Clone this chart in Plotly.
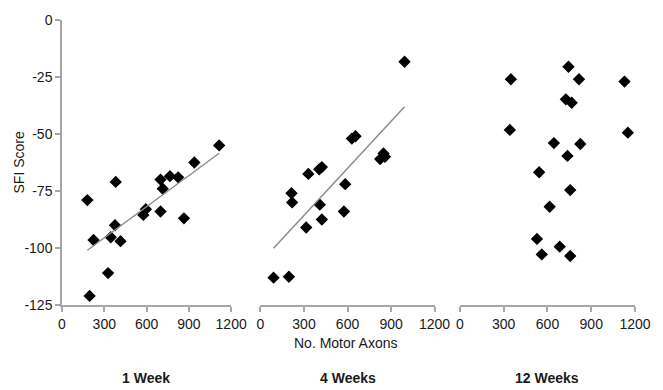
import numpy as np
import plotly.graph_objects as go

# ---- data ----
panels = ["1 Week", "4 Weeks", "12 Weeks"]

x_1wk = [180, 196, 224, 327, 346, 376, 381, 415, 577, 595, 699, 699, 715, 766, 824, 865, 939, 1115]
y_1wk = [-79, -121, -96.5, -111, -95.3, -90, -71, -97, -85.5, -83, -84, -70, -74, -68.5, -69, -87, -62.5, -55]

x_4wk = [90, 196, 214, 218, 315, 330, 405, 409, 423, 423, 575, 584, 630, 655, 825, 848, 858, 993]
y_4wk = [-113, -112.6, -76, -80, -91, -67.5, -65.5, -81, -64.5, -87.5, -84, -72, -52, -51, -61, -58.5, -60, -18.3]

x_12wk = [342, 349, 528, 543, 561, 615, 644, 684, 726, 737, 744, 756, 756, 766, 816, 825, 1128, 1151]
y_12wk = [-48.2, -26, -96, -66.8, -102.8, -81.9, -54, -99.4, -34.8, -59.6, -20.5, -74.6, -103.5, -36.3, -26, -54.4, -27, -49.4]

x_ticks = [0, 300, 600, 900, 1200]
y_ticks = [0, -25, -50, -75, -100, -125]
y_tick_text = ["0", "-25", "-50", "-75", "-100", "-125"]

series = [(x_1wk, y_1wk, True), (x_4wk, y_4wk, True), (x_12wk, y_12wk, False)]

# ---- styling ----
W, H = 663, 390
ML, MR, MT, MB = 62, 15, 20, 85
domains = [[0.0, 0.2952], [0.3464, 0.6502], [0.6945, 1.0]]
AXIS_COLOR = "#a6a6a6"
TEXT_COLOR = "#1a1a1a"
FONT = "Liberation Sans, Arial, sans-serif"
FS = 14

fig = go.Figure()

for i, (xs, ys, trend) in enumerate(series):
    sfx = "" if i == 0 else str(i + 1)
    fig.add_trace(go.Scatter(
        x=xs, y=ys, mode="markers",
        marker=dict(symbol="diamond", size=9.5, color="black"),
        xaxis="x" + sfx, yaxis="y" + sfx, showlegend=False, hoverinfo="x+y"))
    if trend:
        xa = np.array(xs, dtype=float)
        ya = np.array(ys, dtype=float)
        m, b = np.polyfit(xa, ya, 1)
        lx = np.array([xa.min(), xa.max()])
        fig.add_trace(go.Scatter(
            x=lx, y=m * lx + b, mode="lines",
            line=dict(color="#8c8c8c", width=1.5),
            xaxis="x" + sfx, yaxis="y" + sfx, showlegend=False, hoverinfo="skip"))

layout = dict(
    width=W, height=H,
    margin=dict(l=ML, r=MR, t=MT, b=MB, pad=0),
    paper_bgcolor="white", plot_bgcolor="white",
    font=dict(family=FONT, size=FS, color=TEXT_COLOR),
)

for i in range(3):
    sfx = "" if i == 0 else str(i + 1)
    xkey = "xaxis" + sfx
    ykey = "yaxis" + sfx
    layout[xkey] = dict(
        domain=domains[i], range=[0, 1200], anchor="y" + sfx,
        tickvals=x_ticks, ticktext=[str(v) for v in x_ticks],
        showline=True, linecolor=AXIS_COLOR, linewidth=1.5,
        ticks="outside", ticklen=5, tickcolor=AXIS_COLOR, tickwidth=1.5,
        showgrid=False, zeroline=False, fixedrange=True,
        tickfont=dict(size=FS, color=TEXT_COLOR),
    )
    if i == 0:
        layout[ykey] = dict(
            domain=[0, 1], range=[-125, 0], anchor="x",
            tickvals=y_ticks, ticktext=y_tick_text,
            showline=True, linecolor=AXIS_COLOR, linewidth=1.5,
            ticks="outside", ticklen=5, tickcolor=AXIS_COLOR, tickwidth=1.5,
            showgrid=False, zeroline=False, fixedrange=True,
            tickfont=dict(size=FS, color=TEXT_COLOR),
        )
    else:
        layout[ykey] = dict(
            domain=[0, 1], range=[-125, 0], anchor="x" + sfx,
            showline=False, showticklabels=False, ticks="",
            showgrid=False, zeroline=False, fixedrange=True,
        )

fig.update_layout(**layout)

plot_h = H - MT - MB
plot_w = W - ML - MR

def py(pixel_y):
    return -(pixel_y - (H - MB)) / plot_h

def px(pixel_x):
    return (pixel_x - ML) / plot_w

annotations = [
    dict(text="SFI Score", x=px(18), y=0.5, xref="paper", yref="paper",
         textangle=-90, showarrow=False, xanchor="center", yanchor="middle",
         font=dict(size=FS, color=TEXT_COLOR)),
    dict(text="No. Motor Axons", x=px(352), y=py(343), xref="paper", yref="paper",
         showarrow=False, xanchor="center", yanchor="middle",
         font=dict(size=FS, color=TEXT_COLOR)),
]
centers = [148, 354, 558]
for name, cx in zip(panels, centers):
    annotations.append(dict(
        text="<b>" + name + "</b>", x=px(cx), y=py(378), xref="paper", yref="paper",
        showarrow=False, xanchor="center", yanchor="middle",
        font=dict(size=FS, color=TEXT_COLOR)))

fig.update_layout(annotations=annotations)

fig.write_html("out.html")
